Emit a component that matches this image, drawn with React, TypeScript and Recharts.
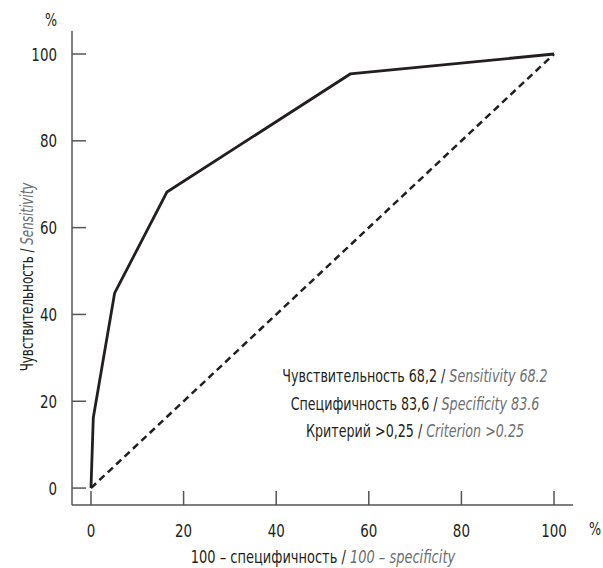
import { LineChart, Line, XAxis, YAxis } from "recharts";

// ROC curve
const fpr = [0, 0.5, 5.1, 16.4, 56, 100];
const tpr = [0, 16.2, 44.9, 68.2, 95.4, 100];
const diagFpr = [0, 100];
const diagTpr = [0, 100];
const xTicks = [0, 20, 40, 60, 80, 100];
const yTicks = [0, 20, 40, 60, 80, 100];

const noteRu = ["Чувствительность 68,2 / ", "Специфичность 83,6 / ", "Критерий >0,25 / "];
const noteEn = ["Sensitivity 68.2", "Specificity 83.6", "Criterion >0.25"];

const FONT = "'DejaVu Sans Condensed', 'DejaVu Sans', sans-serif";
const INK = "#231f20";
const GREY = "#6d6e71";
const AXIS = "#555";

const rocData = fpr.map((x, i) => ({ x, y: tpr[i] }));
const diagData = diagFpr.map((x, i) => ({ x, y: diagTpr[i] }));

// the original uses a narrow face; squeeze ours horizontally
function Sq({ x, y, sx = 0.83, rotate = 0, anchor = "start", size = 17, children }: any) {
  return (
    <g transform={`translate(${x} ${y}) rotate(${rotate}) scale(${sx} 1)`}>
      <text x={0} y={0} textAnchor={anchor} fontFamily={FONT} fontSize={size} fill={INK}>
        {children}
      </text>
    </g>
  );
}

function XTick(props: any) {
  const { x, y, payload } = props;
  return (
    <g>
      <line x1={x} y1={y} x2={x} y2={y - 14} stroke={AXIS} strokeWidth={1.5} />
      <Sq x={x} y={y + 32} anchor="middle" size={18}>{payload.value}</Sq>
    </g>
  );
}

function YTick(props: any) {
  const { x, y, payload } = props;
  return (
    <g>
      <line x1={x} y1={y} x2={x + 14} y2={y} stroke={AXIS} strokeWidth={1.5} />
      <Sq x={x - 15} y={y + 6.5} anchor="end" size={18}>{payload.value}</Sq>
    </g>
  );
}

export default function App() {
  return (
    <div style={{ position: "absolute", left: 0, top: 0, width: 603, height: 568, background: "#fff" }}>
      <LineChart width={603} height={568} margin={{ top: 31, right: 30, bottom: 23, left: 12 }}>
        <XAxis
          type="number"
          dataKey="x"
          domain={[-4.1, 104.1]}
          ticks={xTicks}
          allowDataOverflow
          height={40}
          tickSize={0}
          tickMargin={0}
          tickLine={false}
          axisLine={{ stroke: AXIS, strokeWidth: 1.5 }}
          tick={<XTick />}
        />
        <YAxis
          type="number"
          dataKey="y"
          domain={[-3.9, 105.3]}
          ticks={yTicks}
          allowDataOverflow
          width={60}
          tickSize={0}
          tickMargin={0}
          tickLine={false}
          axisLine={{ stroke: AXIS, strokeWidth: 1.5 }}
          tick={<YTick />}
        />
        <Line
          data={diagData}
          dataKey="y"
          type="linear"
          stroke={INK}
          strokeWidth={2.5}
          strokeDasharray="7 4.5"
          dot={false}
          activeDot={false}
          isAnimationActive={false}
        />
        <Line
          data={rocData}
          dataKey="y"
          type="linear"
          stroke={INK}
          strokeWidth={2.8}
          strokeLinejoin="miter"
          dot={false}
          activeDot={false}
          isAnimationActive={false}
        />
        <Sq x={51} y={26} anchor="middle">%</Sq>
        <Sq x={589} y={535}>%</Sq>
        <Sq x={33} y={277} rotate={-90} sx={0.78} anchor="middle">
          Чувствительность / <tspan fill={GREY} fontStyle="italic">Sensitivity</tspan>
        </Sq>
        <Sq x={323} y={563} sx={0.85} anchor="middle">
          100 – специфичность / <tspan fill={GREY} fontStyle="italic">100 – specificity</tspan>
        </Sq>
        {noteRu.map((t, i) => (
          <Sq key={i} x={415} y={382 + i * 27.5} anchor="middle">
            {t}
            <tspan fill={GREY} fontStyle="italic">{noteEn[i]}</tspan>
          </Sq>
        ))}
      </LineChart>
    </div>
  );
}
